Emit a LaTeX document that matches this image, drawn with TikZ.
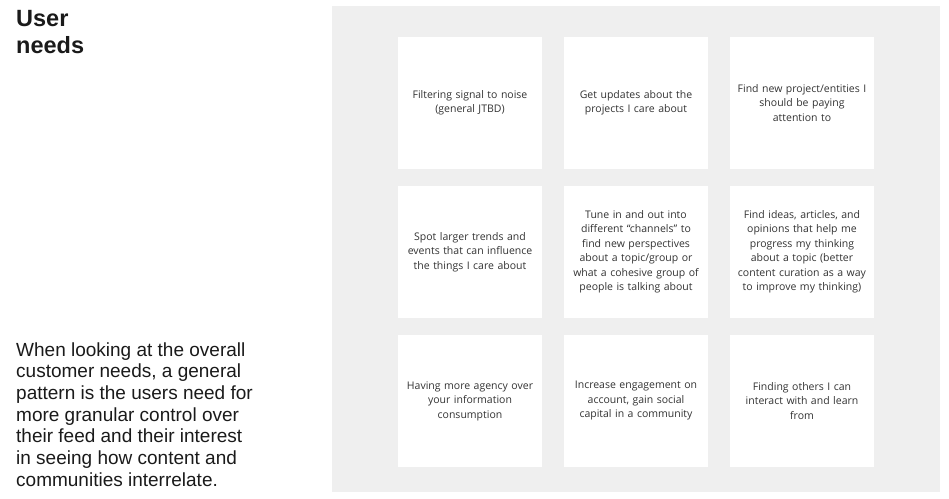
\documentclass[tikz,border=0pt]{standalone}
\usepackage{fontspec}
\setmainfont{Liberation Sans}
\newfontfamily\cardfont{Open Sans}
\usetikzlibrary{positioning}
\definecolor{boardgray}{HTML}{EFEFEF}
\definecolor{inkdark}{HTML}{1A1A1A}
\definecolor{cardink}{HTML}{333333}

\begin{document}
\begin{tikzpicture}[x=1pt,y=-1pt,node distance=17pt and 22pt,
  card node/.style={rectangle,fill=white,inner sep=4pt,outer sep=0pt,minimum width=144pt,minimum height=132pt,
    text width=136pt,align=center,text=cardink,font=\cardfont\fontsize{10.5}{14.5}\selectfont},
  board/.style={rectangle,fill=boardgray,inner sep=0pt,outer sep=0pt,minimum width=608pt,minimum height=486pt},
  side text/.style={anchor=north west,inner sep=0pt,align=left,text=inkdark}]
  \useasboundingbox (0,0) rectangle (949,498);

  % grey board behind the cards
  \node[board] (board) at (636,249) {};

  \node[side text,font=\bfseries\fontsize{23.5}{27}\selectfont] (title) at (16,10) {User\\needs};
  \node[side text,font=\fontsize{19}{21.67}\selectfont] (summary) at (16,342.2)
    {When looking at the overall\\customer needs, a general\\pattern is the users need for\\more granular control over\\their feed and their interest\\in seeing how content and\\communities interrelate.};

  % the nine needs
  \node[card node] (1) at (470,103) {Filtering signal to noise\\(general JTBD)};
  \node[card node] (2) [right=of 1] {Get updates about the\\projects I care about};
  \node[card node] (3) [right=of 2] {Find new project/entities I\\should be paying\\attention to};
  \node[card node] (4) [below=of 1] {Spot larger trends and\\events that can influence\\the things I care about};
  \node[card node] (5) [right=of 4] {Tune in and out into\\different “channels” to\\find new perspectives\\about a topic/group or\\what a cohesive group of\\people is talking about};
  \node[card node] (6) [right=of 5] {Find ideas, articles, and\\opinions that help me\\progress my thinking\\about a topic (better\\content curation as a way\\to improve my thinking)};
  \node[card node] (7) [below=of 4] {Having more agency over\\your information\\consumption};
  \node[card node] (8) [right=of 7] {Increase engagement on\\account, gain social\\capital in a community};
  \node[card node] (9) [right=of 8] {Finding others I can\\interact with and learn\\from};

\end{tikzpicture}
\end{document}
